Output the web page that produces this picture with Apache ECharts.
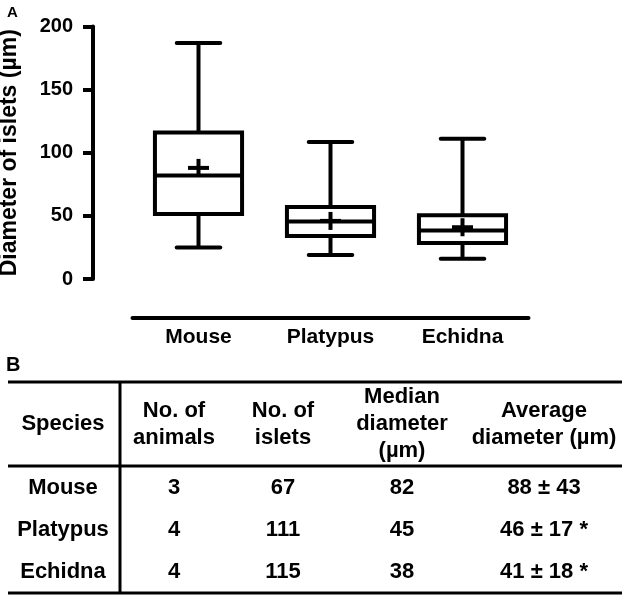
<!DOCTYPE html>
<html><head><meta charset="utf-8">
<script src="https://cdn.jsdelivr.net/npm/echarts@6/dist/echarts.min.js"></script>
<style>html,body{margin:0;padding:0;background:#fff}#c{width:622px;height:595px}</style>
</head><body><div id="c"></div>
<script>
// ---- data ----
const categories = ['Mouse', 'Platypus', 'Echidna'];
const whiskerMin = [25, 19, 16];
const q1 = [51.5, 34, 28.5];
const median = [82, 45.5, 38.5];
const q3 = [116, 57, 50.5];
const whiskerMax = [187, 108.5, 111];
const mean = [88, 46, 41];
const yTicks = [0, 50, 100, 150, 200];

const tableHeaders = ['Species', 'No. of\nanimals', 'No. of\nislets', 'Median\ndiameter\n(µm)', 'Average\ndiameter (µm)'];
const tableRows = [
  ['Mouse', '3', '67', '82', '88 ± 43'],
  ['Platypus', '4', '111', '45', '46 ± 17 *'],
  ['Echidna', '4', '115', '38', '41 ± 18 *']
];

// ---- layout ----
const FONT = '"Liberation Sans", Arial, sans-serif';
const colX = [63, 174, 283, 402, 544];
const rowY = [488, 530, 572];
const headerY = 424;
const LH = 27;

const chart = echarts.init(document.getElementById('c'), null, {renderer: 'canvas'});

const data = categories.map((c, i) => [i, whiskerMin[i], q1[i], median[i], q3[i], whiskerMax[i], mean[i]]);

const graphics = [];
graphics.push({type: 'text', left: 7, top: 5, style: {text: 'A', font: 'bold 15px ' + FONT, fill: '#000'}});
graphics.push({type: 'text', left: 6, top: 355, style: {text: 'B', font: 'bold 20px ' + FONT, fill: '#000'}});
const lineStyle = {stroke: '#000', lineWidth: 3};
graphics.push({type: 'line', shape: {x1: 8, y1: 382, x2: 622, y2: 382}, style: lineStyle});
graphics.push({type: 'line', shape: {x1: 8, y1: 466, x2: 622, y2: 466}, style: lineStyle});
graphics.push({type: 'line', shape: {x1: 8, y1: 593, x2: 622, y2: 593}, style: lineStyle});
graphics.push({type: 'line', shape: {x1: 120, y1: 382, x2: 120, y2: 593}, style: lineStyle});
tableHeaders.forEach((h, j) => {
  graphics.push({type: 'text', x: colX[j], y: headerY,
    style: {text: h, font: 'bold 22px ' + FONT, fill: '#000', align: 'center', verticalAlign: 'middle', lineHeight: LH}});
});
tableRows.forEach((row, r) => {
  row.forEach((v, j) => {
    graphics.push({type: 'text', x: colX[j], y: rowY[r],
      style: {text: v, font: 'bold 22px ' + FONT, fill: '#000', align: 'center', verticalAlign: 'middle'}});
  });
});

function renderItem(params, api) {
  const i = api.value(0);
  const x = api.coord([i, 0])[0];
  const yMin = api.coord([i, api.value(1)])[1];
  const yQ1 = api.coord([i, api.value(2)])[1];
  const yMed = api.coord([i, api.value(3)])[1];
  const yQ3 = api.coord([i, api.value(4)])[1];
  const yMax = api.coord([i, api.value(5)])[1];
  const yMean = api.coord([i, api.value(6)])[1];
  const band = api.size([1, 0])[0];
  const hb = band * 0.33;
  const hc = band * 0.165;
  const st = {stroke: '#000', lineWidth: 4, fill: null};
  const stc = {stroke: '#000', lineWidth: 4, lineCap: 'round'};
  return {type: 'group', children: [
    {type: 'line', shape: {x1: x, y1: yQ3, x2: x, y2: yMax}, style: st},
    {type: 'line', shape: {x1: x - hc, y1: yMax, x2: x + hc, y2: yMax}, style: stc},
    {type: 'line', shape: {x1: x, y1: yQ1, x2: x, y2: yMin}, style: st},
    {type: 'line', shape: {x1: x - hc, y1: yMin, x2: x + hc, y2: yMin}, style: stc},
    {type: 'rect', shape: {x: x - hb, y: yQ3, width: 2 * hb, height: yQ1 - yQ3}, style: {stroke: '#000', lineWidth: 4, fill: '#fff'}},
    {type: 'line', shape: {x1: x - hb, y1: yMed, x2: x + hb, y2: yMed}, style: st},
    {type: 'line', shape: {x1: x - 10.5, y1: yMean, x2: x + 10.5, y2: yMean}, style: st},
    {type: 'line', shape: {x1: x, y1: yMean - 9, x2: x, y2: yMean + 9}, style: st}
  ]};
}

chart.setOption({
  backgroundColor: '#fff',
  animation: false,
  grid: {left: 132.5, right: 93.5, top: 26.5, bottom: 316, containLabel: false, outerBoundsMode: 'none'},
  xAxis: {
    type: 'category', data: categories, offset: 39,
    axisLine: {onZero: false, lineStyle: {color: '#000', width: 4}},
    axisTick: {show: false},
    axisLabel: {color: '#000', fontWeight: 'bold', fontSize: 21, fontFamily: FONT, margin: 9}
  },
  yAxis: {
    type: 'value', min: yTicks[0], max: yTicks[yTicks.length - 1], interval: 50, offset: 39.5,
    name: 'Diameter of islets (µm)', nameLocation: 'middle', nameGap: 72,
    nameTextStyle: {color: '#000', fontWeight: 'bold', fontSize: 23, fontFamily: FONT},
    axisLine: {show: true, onZero: false, lineStyle: {color: '#000', width: 4}},
    axisTick: {show: true, length: 10, lineStyle: {color: '#000', width: 4}},
    axisLabel: {color: '#000', fontWeight: 'bold', fontSize: 20, fontFamily: FONT, margin: 20},
    splitLine: {show: false}
  },
  series: [{type: 'custom', renderItem: renderItem, data: data, encode: {x: 0, y: [1, 2, 3, 4, 5, 6]}}],
  graphic: graphics
});
</script></body></html>
